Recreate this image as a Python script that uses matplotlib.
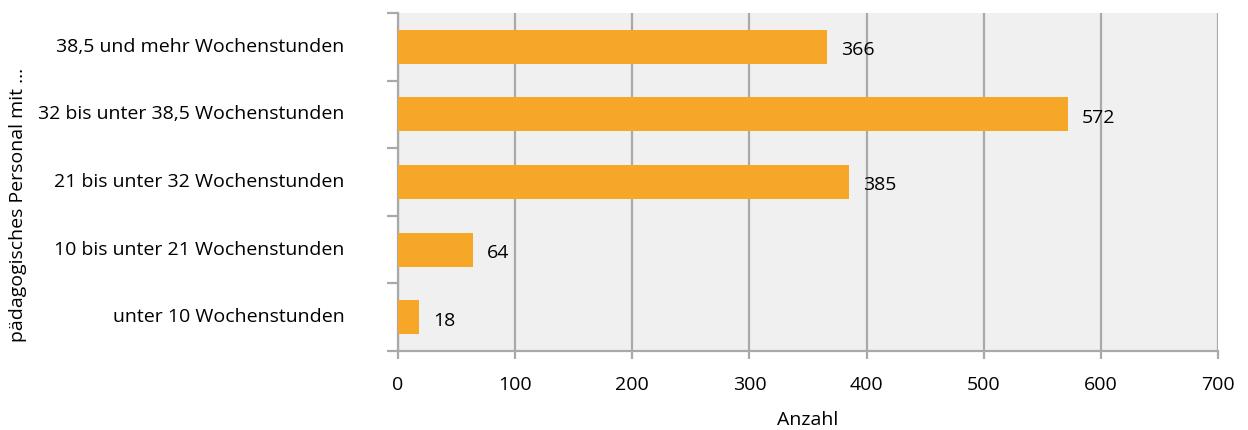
import numpy as np
import matplotlib.pyplot as plt

plt.rcParams['font.family'] = ['Open Sans', 'DejaVu Sans']

categories = ["unter 10 Wochenstunden",
              "10 bis unter 21 Wochenstunden",
              "21 bis unter 32 Wochenstunden",
              "32 bis unter 38,5 Wochenstunden",
              "38,5 und mehr Wochenstunden"]
values = [18, 64, 385, 572, 366]
xticks = [0, 100, 200, 300, 400, 500, 600, 700]

bar_color = '#f7a727'
grid_color = '#a9a9a9'
fs = 14

fig = plt.figure(figsize=(12.48, 4.3), dpi=100)
ax = fig.add_axes([398 / 1248, 1 - 351 / 430, 820 / 1248, 338 / 430])
ax.set_facecolor('#f0f0f0')

y = np.arange(len(categories))
ax.barh(y, values, height=0.5, color=bar_color, zorder=3)
for yi, v in zip(y, values):
    ax.text(v + 12, yi - 0.05, str(v), va='center', ha='left', fontsize=fs, zorder=4)

ax.set_xlim(0, 700)
ax.set_ylim(-0.5, len(categories) - 0.5)
ax.set_xticks(xticks)
ax.set_xticklabels([str(t) for t in xticks], fontsize=fs)
ax.xaxis.grid(True, color=grid_color, linewidth=1.6, zorder=1)

# category labels between boundary ticks
ax.set_yticks(np.arange(-0.5, len(categories), 1.0))
ax.set_yticklabels([])
for yi, c in zip(y, categories):
    ax.text(-0.065, yi, c, transform=ax.get_yaxis_transform(), ha='right', va='center',
            fontsize=fs)

for s in ['top', 'right']:
    ax.spines[s].set_visible(False)
for s in ['left', 'bottom']:
    ax.spines[s].set_color(grid_color)
    ax.spines[s].set_linewidth(1.6)
ax.tick_params(axis='y', direction='out', length=8, width=1.6, color=grid_color)
ax.tick_params(axis='x', direction='out', length=6, width=1.6, color=grid_color, pad=12)

ax.set_xlabel('Anzahl', fontsize=fs, labelpad=12)
fig.text(18 / 1248, 1 - 205 / 430, 'pädagogisches Personal mit ...', rotation=90,
         ha='center', va='center', fontsize=fs)

fig.savefig('out.png', dpi=100)
